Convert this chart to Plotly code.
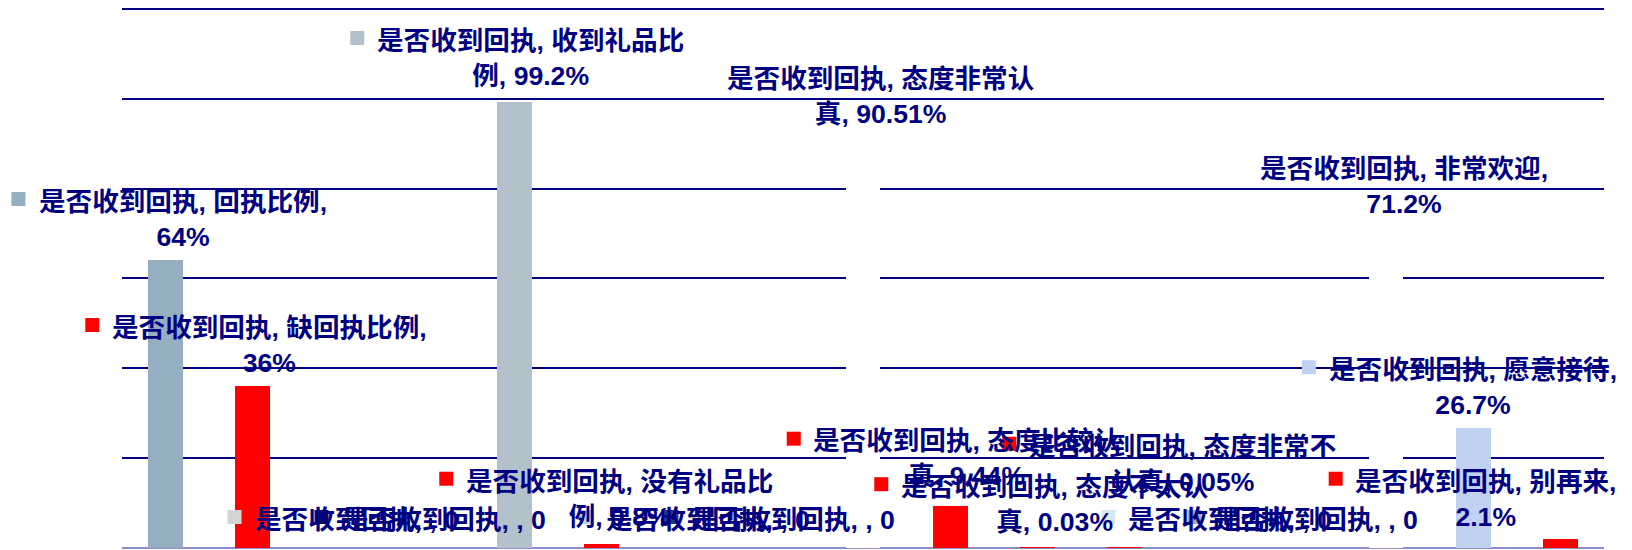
import plotly.graph_objects as go

# ---------------- data ----------------
series_name = "是否收到回执"
categories = ["回执比例", "缺回执比例", "", "", "收到礼品比例", "没有礼品比例", "", "",
              "态度非常认真", "态度比较认真", "态度不太认真", "态度非常不认真", "", "",
              "非常欢迎", "愿意接待", "别再来"]
values = [64, 36, 0, 0, 99.2, 0.8, 0, 0, 90.51, 9.44, 0.03, 0.05, 0, 0, 71.2, 26.7, 2.1]
y_ticks = [0, 20, 40, 60, 80, 100, 120]

# ---------------- styles ----------------
bar_colors = ["#95AFC0", "#FF0000", "#D4D4D4", "#0B0B5E", "#B3C1CB", "#FF0000", "#B9D9EB", "#1F3B7E",
              "#FFFFFF", "#FF0000", "#FF0000", "#FF0000", "#D6E8F1", "#A1A9BB", "#FFFFFF", "#C0D1F2", "#FF0000"]
# label placement (category-index offset, value units)
label_dx = [0.194, 0.194, 0.19, 0.188, 0.191, 0.212, 0.227, 0.202, 0.203, 0.198, 0.202, 0.670,
            0.215, 0.201, 0.211, -0.003, -0.848]
label_y = [73.15, 45.11, 6.23, 6.23, 108.98, 10.9, 6.23, 6.23, 100.48, 19.81, 9.68, 18.69,
           6.23, 6.23, 80.41, 35.72, 10.9]

TEXT_COLOR = "#000080"
FONT_SIZE = 26.6
LINE_H = 1.3 * FONT_SIZE
WRAP = 316
Y_MAX = 120.4
N = len(categories)


def char_w(ch):
    if ord(ch) > 0x2E80:
        return FONT_SIZE
    if ch in ", .":
        return 0.278 * FONT_SIZE
    if ch == "%":
        return 0.889 * FONT_SIZE
    return 0.556 * FONT_SIZE


def text_w(s):
    return sum(char_w(c) for c in s)


def tokens(s):
    out, buf = [], ""
    for ch in s:
        if ord(ch) > 0x2E80:
            if buf:
                out.append(buf)
                buf = ""
            out.append(ch)
        elif ch == " ":
            if buf:
                out.append(buf)
                buf = ""
            out.append(" ")
        else:
            buf += ch
    if buf:
        out.append(buf)
    merged = []
    for t in out:
        if t.startswith(",") and merged:
            merged[-1] += t
        else:
            merged.append(t)
    return merged


def wrap(s):
    lines, cur = [], ""
    for t in tokens(s):
        if cur and text_w((cur + t).rstrip()) > WRAP + 6:
            lines.append(cur.rstrip())
            cur = "" if t == " " else t
        else:
            cur += t
    if cur:
        lines.append(cur.rstrip())
    return lines


def fmt(v, c):
    return f"{v:g}%" if c else "0"


fig = go.Figure()
idx = list(range(N))
fig.add_trace(go.Bar(x=idx, y=values, marker=dict(color=bar_colors, line=dict(width=0)),
                     width=0.4, hoverinfo="skip"))

for i, (c, v) in enumerate(zip(categories, values)):
    lines = wrap(f"{series_name}, {c}, {fmt(v, c)}")
    ax = i + label_dx[i]
    fig.add_annotation(x=ax, y=label_y[i], xref="x", yref="y", text="<br>".join(lines),
                       showarrow=False, xanchor="center", yanchor="middle", align="center",
                       font=dict(family="Liberation Sans, Arial, Noto Sans CJK SC", size=FONT_SIZE,
                                 color=TEXT_COLOR, weight="bold"))
    w1 = text_w(lines[0])
    kx = -w1 / 2 - 20
    ky = (len(lines) - 1) * LINE_H / 2 + 3
    fig.add_shape(type="rect", xref="paper", yref="paper", xsizemode="pixel", ysizemode="pixel",
                  xanchor=(ax + 0.5) / N, yanchor=label_y[i] / Y_MAX,
                  x0=kx - 7, x1=kx + 7, y0=ky - 7, y1=ky + 7,
                  fillcolor=bar_colors[i], line=dict(width=0), layer="above")

fig.update_layout(
    width=1632, height=550,
    margin=dict(l=122, r=28, t=7, b=2),
    paper_bgcolor="white", plot_bgcolor="white",
    showlegend=False, bargap=0,
    xaxis=dict(range=[-0.5, N - 0.5], showticklabels=False, showgrid=False,
               zeroline=False, showline=False, ticks=""),
    yaxis=dict(range=[0, Y_MAX], tickvals=y_ticks, showticklabels=False, showgrid=True,
               gridcolor="#000080", gridwidth=2, zeroline=True, zerolinecolor="#8C8CC8",
               zerolinewidth=2, showline=False, ticks=""),
)

fig.write_html("out.html", config={"displayModeBar": False},
               post_script="document.body.style.margin='0px';")
